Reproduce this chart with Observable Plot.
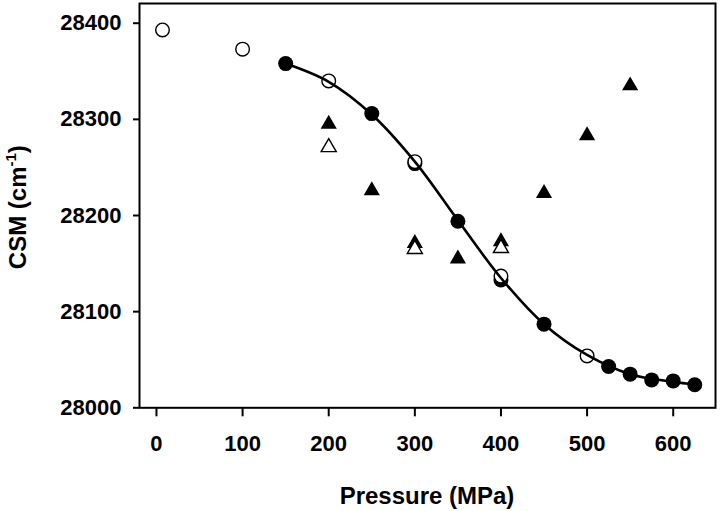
<!DOCTYPE html>
<html>
<head>
<meta charset="utf-8">
<script src="https://cdn.jsdelivr.net/npm/d3@7"></script>
<script src="https://cdn.jsdelivr.net/npm/@observablehq/plot@0.6"></script>
<style>
  html, body { margin: 0; padding: 0; background: #fff; }
  #chart svg { display: block; }
</style>
</head>
<body>
<div id="chart"></div>
<script>
// Tick values
const xTicks = [0, 100, 200, 300, 400, 500, 600];
const yTicks = [28000, 28100, 28200, 28300, 28400];

// Fitted sigmoid curve
const fitPressure = [150, 200, 250, 300, 350, 400, 450, 500, 550, 600, 625];
const fitCSM      = [28358, 28339, 28305, 28256, 28195, 28135, 28087, 28055, 28035, 28027, 28024];

// Filled circles
const filledCirclePressure = [150, 250, 300, 350, 400, 450, 525, 550, 575, 600, 625];
const filledCircleCSM      = [28358, 28306, 28254, 28194, 28133, 28087, 28043, 28035, 28029, 28028, 28024];

// Open circles
const openCirclePressure = [7, 100, 200, 300, 400, 500];
const openCircleCSM      = [28393, 28373, 28340, 28256, 28137, 28054];

// Filled triangles
const filledTriPressure = [200, 250, 300, 350, 400, 450, 500, 550];
const filledTriCSM      = [28295, 28226, 28171, 28155, 28173, 28223, 28283, 28335];

// Open triangles
const openTriPressure = [200, 300, 400];
const openTriCSM      = [28271, 28165, 28166];

const rows = (xs, ys) => xs.map((x, i) => ({x, y: ys[i]}));

const font = '"Liberation Sans", Arial, Helvetica, sans-serif';

const chart = Plot.plot({
  width: 720,
  height: 511,
  marginLeft: 139,
  marginRight: 5,
  marginTop: 3,
  marginBottom: 103.7,
  style: {fontFamily: font, background: "#fff", color: "#000"},
  x: {domain: [-19.7, 649.1]},
  y: {domain: [28000, 28420.5]},
  marks: [
    Plot.axisX({ticks: xTicks, tickSize: 9, tickPadding: 19, tickFormat: d3.format("d"),
      label: null, fontSize: 22, fontWeight: "bold", strokeWidth: 2}),
    Plot.axisY({ticks: yTicks, tickSize: 6, tickPadding: 12, tickFormat: d3.format("d"),
      label: null, fontSize: 22, fontWeight: "bold", strokeWidth: 2}),
    Plot.dot(rows(filledCirclePressure, filledCircleCSM), {x: "x", y: "y", r: 7.5, fill: "#000", stroke: "none"}),
    Plot.dot(rows(openCirclePressure, openCircleCSM), {x: "x", y: "y", r: 6.8, fill: "#fff", stroke: "#000", strokeWidth: 1.4}),
    Plot.dot(rows(filledTriPressure, filledTriCSM), {x: "x", y: "y", r: 6, symbol: "triangle", fill: "#000", stroke: "none"}),
    Plot.dot(rows(openTriPressure, openTriCSM), {x: "x", y: "y", r: 5.6, symbol: "triangle", fill: "#fff", stroke: "#000", strokeWidth: 1.4}),
    Plot.line(rows(fitPressure, fitCSM), {x: "x", y: "y", curve: "catmull-rom", stroke: "#000", strokeWidth: 2.6}),
    Plot.frame({stroke: "#000", strokeWidth: 2})
  ]
});

document.getElementById("chart").appendChild(chart);

// Axis titles
const svg = d3.select(chart);
const [xr0, xr1] = chart.scale("x").range;
const [yr0, yr1] = chart.scale("y").range;

svg.append("text")
  .attr("x", (xr0 + xr1) / 2)
  .attr("y", 504)
  .attr("text-anchor", "middle")
  .attr("font-family", font)
  .attr("font-size", 24)
  .attr("font-weight", "bold")
  .attr("fill", "#000")
  .text("Pressure (MPa)");

const yt = svg.append("text")
  .attr("transform", `translate(26,${(yr0 + yr1) / 2 + 2}) rotate(-90)`)
  .attr("text-anchor", "middle")
  .attr("font-family", font)
  .attr("font-size", 24)
  .attr("font-weight", "bold")
  .attr("fill", "#000");
yt.append("tspan").text("CSM (cm");
yt.append("tspan").attr("font-size", 15).attr("dy", -10).text("-1");
yt.append("tspan").attr("dy", 10).text(")");
</script>
</body>
</html>
